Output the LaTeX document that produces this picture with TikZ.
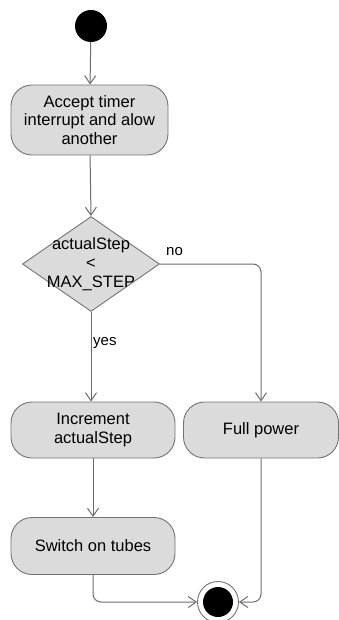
\documentclass[tikz,border=0pt]{standalone}
\usepackage{fontspec}
\setmainfont{Liberation Sans}
\usepackage{xcolor}
\usepackage{tikz}
\usetikzlibrary{arrows.meta,calc,shapes.geometric}

\begin{document}
\begin{tikzpicture}[x=1pt,y=-1pt,>={Straight Barb[length=8pt,width=11pt]},line join=round,
    action/.style={draw=gray!90!black,line width=0.9pt,fill=gray!28,rounded corners=21pt,align=center,
      font=\fontsize{16.5}{18.5}\selectfont,inner sep=0pt},
    flow/.style={->,draw=gray!85!black,line width=1pt,rounded corners=8pt},
    lbl/.style={font=\fontsize{15}{17}\selectfont,inner sep=0pt}]
  \useasboundingbox (0,0) rectangle (339,620);
  \node[circle,fill=black,minimum size=32pt,inner sep=0pt] (start) at (91,26) {};
  \node[action,minimum width=157pt,minimum height=70pt] (accept) at (89.5,120)
    {Accept timer\\interrupt and alow\\another};
  \node[diamond,draw=gray!90!black,line width=0.9pt,fill=gray!28,minimum width=137pt,minimum height=95pt,inner sep=0pt] (dec) at (91,264) {};
  \node[align=center,font=\fontsize{16.5}{19}\selectfont,inner sep=0pt] (dectext) at (dec.center) {actualStep\\<\\MAX\_STEP};
  \node[action,minimum width=164pt,minimum height=56pt] (inc) at (93,430) {Increment\\actualStep};
  \node[action,minimum width=155pt,minimum height=56pt] (full) at (261,430) {Full power};
  \node[action,minimum width=164pt,minimum height=57pt] (switch) at (93,546) {Switch on tubes};
  \node[circle,draw=gray!90!black,line width=0.9pt,fill=white,minimum size=41pt,inner sep=0pt] (endring) at (218,602) {};
  \node[circle,fill=black,minimum size=30pt,inner sep=0pt] (enddot) at (endring.center) {};
  \draw[flow] (start) -- (accept);
  \draw[flow] (accept) -- (dec.north);
  \draw[flow] (dec.south) -- (dec.south |- inc.north);
  \draw[flow] (dec.east) -| (full.north);
  \draw[flow] (inc) -- (switch);
  \draw[flow] (switch.south) |- (endring.west);
  \draw[flow] (full.south) |- (endring.east);
  \node[lbl,anchor=west] (no) at (166,252) {no};
  \node[lbl,anchor=west] (yes) at (93,343) {yes};
\end{tikzpicture}
\end{document}
